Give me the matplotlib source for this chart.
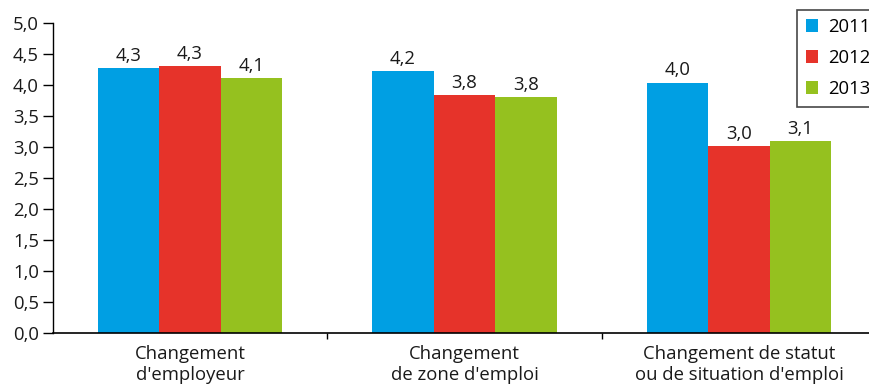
import numpy as np
import matplotlib
matplotlib.use("Agg")
import matplotlib.pyplot as plt
from matplotlib.patches import Patch

plt.rcParams["font.family"] = ["Open Sans", "DejaVu Sans"]

CATEGORIES = ["Changement\nd'employeur", "Changement\nde zone d'emploi",
              "Changement de statut\nou de situation d'emploi"]
YEARS = ["2011", "2012", "2013"]
VALUES = {
    "2011": [4.27, 4.23, 4.04],
    "2012": [4.31, 3.84, 3.02],
    "2013": [4.11, 3.80, 3.10],
}
COLORS = {"2011": "#009FE3", "2012": "#E6332A", "2013": "#95C11F"}
Y_TICKS = [0.0, 0.5, 1.0, 1.5, 2.0, 2.5, 3.0, 3.5, 4.0, 4.5, 5.0]

FS = 13.3


def fmt(v):
    return f"{v:.1f}".replace(".", ",")


fig = plt.figure(figsize=(8.69, 3.84), dpi=100)
ax = fig.add_axes([0.061, 0.133, 0.939, 0.807])

x = np.arange(len(CATEGORIES))
w = 0.224
for i, yr in enumerate(YEARS):
    pos = x + (i - 1) * w
    bars = ax.bar(pos, VALUES[yr], width=w, color=COLORS[yr], edgecolor="none")
    for b, v in zip(bars, VALUES[yr]):
        ax.text(b.get_x() + b.get_width() / 2, v + 0.05, fmt(v),
                ha="center", va="bottom", fontsize=FS, color="#1a1a1a")

ax.set_ylim(0, 5.0)
ax.set_xlim(-0.499, 2.474)
ax.set_yticks(Y_TICKS)
ax.set_yticklabels([fmt(t) for t in Y_TICKS], fontsize=FS, color="#1a1a1a")
ax.tick_params(axis="y", length=7, width=1, direction="out", pad=3)

# category labels, separator ticks between groups
ax.set_xticks(x)
ax.set_xticklabels(CATEGORIES, fontsize=FS, color="#1a1a1a", linespacing=1.15)
ax.tick_params(axis="x", length=0, pad=9)
ax.set_xticks([0.5, 1.5], minor=True)
ax.tick_params(axis="x", which="minor", length=4, width=1, direction="out")

for s in ["top", "right"]:
    ax.spines[s].set_visible(False)
ax.spines["left"].set_linewidth(1)
ax.spines["bottom"].set_linewidth(1.2)

handles = [Patch(facecolor=COLORS[yr], edgecolor="none") for yr in YEARS]
leg = ax.legend(handles, YEARS, loc="upper left", bbox_to_anchor=(0.912, 1.042),
                fontsize=FS, frameon=True, fancybox=False, handlelength=0.7,
                handleheight=0.7, handletextpad=0.5, labelspacing=0.7,
                borderpad=0.45, borderaxespad=0)
leg.get_frame().set_edgecolor("#1a1a1a")
leg.get_frame().set_linewidth(1.2)

fig.savefig("out.png", dpi=100)
